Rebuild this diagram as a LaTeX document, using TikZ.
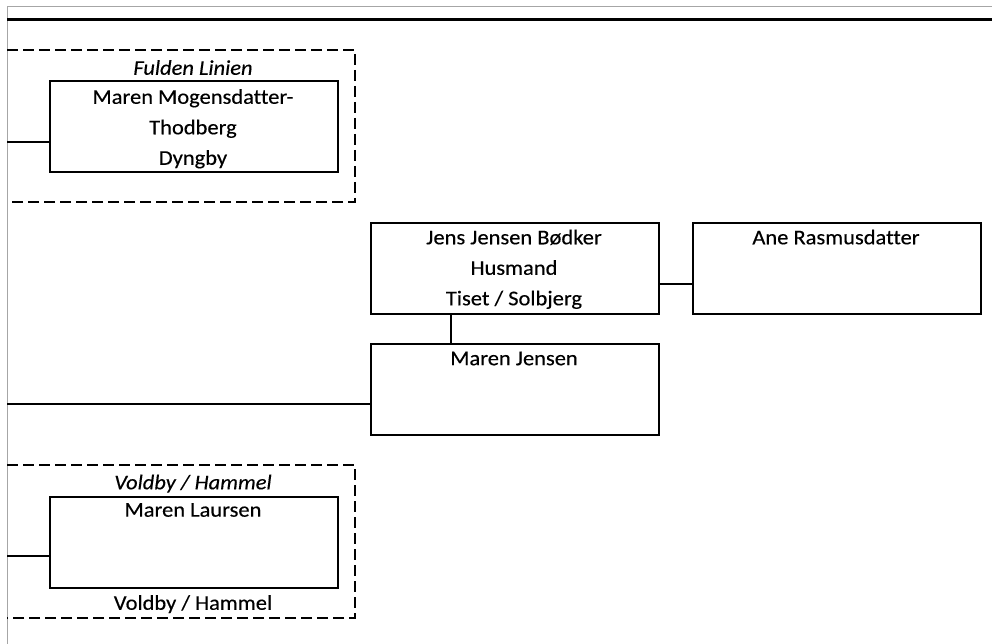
\documentclass[tikz,border=0pt]{standalone}
\usepackage{fontspec}
\setmainfont{Carlito}[FakeStretch=1.07,FakeBold=0.3,Ligatures=NoCommon]
\begin{document}
\begin{tikzpicture}[x=1pt,y=-1pt,
  person/.style={draw,line width=1.8pt,minimum width=288pt,minimum height=91pt,anchor=north west,inner sep=0pt},
  txt/.style={font=\fontsize{21}{30.5}\selectfont,inner sep=0pt,anchor=north,align=center},
  itxt/.style={txt,font=\fontsize{21}{30.5}\selectfont\itshape},
  grp/.style={line width=2pt,dash pattern=on 11pt off 5pt},
  conn/.style={line width=1.8pt},
  frame/.style={draw=black!35,line width=1pt}]
\useasboundingbox (0,0) rectangle (992,644);
\fill[white] (0,0) rectangle (992,644);
% page frame
\draw[frame] (7,7) -- (992,7);
\draw[frame] (7,7) -- (7,644);
\draw[line width=2.2pt] (7,19.5) -- (992,19.5);
% group frames
\draw[grp] (7,50) -- (355,50) -- (355,202) -- (7,202);
\draw[grp] (7,465) -- (355,465) -- (355,618) -- (7,618);
\node[itxt] (g1) at (193,60) {Fulden Linien};
\node[itxt] (g2) at (193,474.5) {Voldby / Hammel};
% boxes
\node[person] (mm) at (49,80) {};
\node[person] (jj) at (370,222) {};
\node[person] (ar) at (692,222) {};
\node[person] (mj) at (370,343) {};
\node[person] (ml) at (49,496) {};
% texts
\node[txt] (mmt) at (193,89) {Maren Mogensdatter-\\Thodberg\\Dyngby};
\node[txt] (jjt) at (514,229.5) {Jens Jensen Bødker\\Husmand\\Tiset / Solbjerg};
\node[txt] (art) at (836,229.5) {Ane Rasmusdatter};
\node[txt] (mjt) at (514,351.5) {Maren Jensen};
\node[txt] (mlt) at (193,503) {Maren Laursen};
\node[txt] (mlp) at (193,595) {Voldby / Hammel};
% free ends
\coordinate (e1) at (7,142);
\coordinate (e2) at (7,404);
\coordinate (e3) at (7,556);
% connectors
\draw[conn] (e1) -- (mm.west |- e1);
\draw[conn] (e2) -- (mj.west |- e2);
\draw[conn] (e3) -- (ml.west |- e3);
\draw[conn] ([yshift=-15.5pt]jj.east) -- ([yshift=-15.5pt]ar.west);
\draw[conn] ([xshift=81pt]jj.south west) -- ([xshift=81pt]mj.north west);
\end{tikzpicture}
\end{document}
